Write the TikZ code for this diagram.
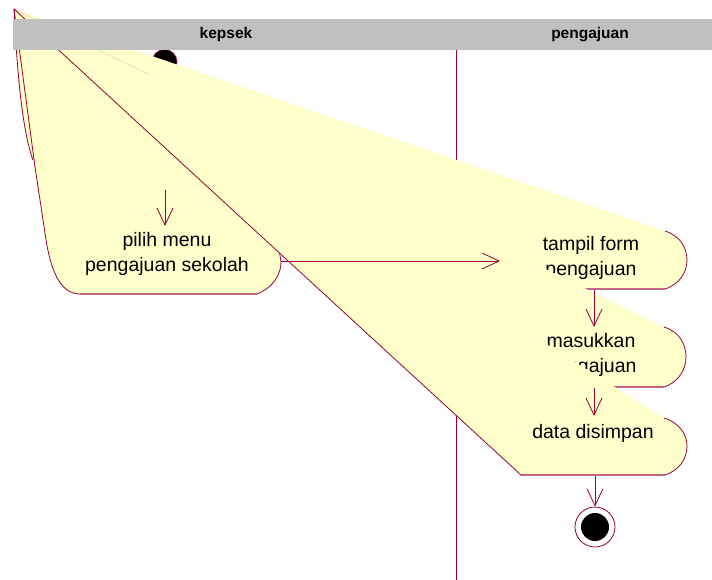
\documentclass[tikz,border=0pt]{standalone}
\usepackage{fontspec}
\setmainfont{Liberation Sans}
\usetikzlibrary{arrows.meta, positioning}
\definecolor{roseline}{RGB}{153,0,51}
\definecolor{roseyellow}{RGB}{255,255,204}
\definecolor{lanegray}{RGB}{192,192,192}
\definecolor{faintline}{RGB}{238,222,172}

\begin{document}
\begin{tikzpicture}[x=1pt, y=-1pt,
    swim/.style={fill=lanegray, draw=none},
    lanetitle/.style={font=\fontsize{15.5}{18}\selectfont\bfseries, anchor=base, inner sep=0pt},
    blob/.style={fill=roseyellow, draw=none},
    rim/.style={draw=roseline, line width=0.8pt},
    floorline/.style={draw=roseline!60, line width=1.3pt},
    activity/.style={font=\fontsize{19.5}{25}\selectfont, align=center, inner sep=0pt},
    edge/.style={draw=roseline, line width=0.8pt, -{Straight Barb[length=17pt, width=16pt, line width=0.8pt]}},
    startdot/.style={circle, fill=black, draw=roseline, line width=0.6pt, minimum size=25pt, inner sep=0pt},
    stopring/.style={circle, fill=white, draw=roseline, line width=0.8pt, minimum size=40pt, inner sep=0pt},
    stopdot/.style={circle, fill=black, minimum size=28pt, inner sep=0pt},
]

\useasboundingbox (0,0) rectangle (712,580);

% === SWIMLANE DIVIDER ===
\draw[rim] (456,49) -- (456,580);

% === INITIAL STATE ===
\node[startdot] (start) at (164.5,62) {};

% === ACTIVITY: pilih menu ===
\coordinate (apex) at (14,9);
\fill[blob] (apex) .. controls (17,70) and (22,130) .. (33,160) -- (45,233)
    .. controls (50,270) and (60,294) .. (80,294) -- (257,294)
    .. controls (274,287) and (281,274) .. (281,262) -- (278,250) -- cycle;
\draw[rim] (apex) .. controls (17,70) and (22,130) .. (33,160);
\draw[rim] (apex) -- (35,167) -- (45,233) .. controls (50,270) and (60,294) .. (80,294);
\draw[floorline] (80,294) -- (257,294);
\draw[rim] (257,294) .. controls (274,287) and (281,274) .. (281,262) -- (279,249);
\draw[rim] (apex) -- (40,22);
\node[activity] (pilih) at (167,254) {pilih menu\\pengajuan sekolah};

% === ACTIVITY: tampil form ===
\fill[blob] (apex) -- (665,231) .. controls (681,236) and (687,249) .. (687,260)
    .. controls (687,272) and (680,284) .. (665,289) -- (583,289) -- cycle;
\draw[rim] (665,231) .. controls (681,236) and (687,249) .. (687,260)
    .. controls (687,272) and (680,284) .. (665,289);
\draw[floorline] (665,289) -- (583,289);
\node[activity] (tampil) at (591,258) {tampil form\\pengajuan};

% === ACTIVITY: masukkan ===
\fill[blob] (apex) -- (664,327) .. controls (680,332) and (686,345) .. (686,357)
    .. controls (686,369) and (679,382) .. (664,387) -- (613,387) -- cycle;
\draw[faintline, line width=0.8pt] (apex) -- (150,75);
\draw[rim] (664,327) .. controls (680,332) and (686,345) .. (686,357)
    .. controls (686,369) and (679,382) .. (664,387);
\draw[floorline] (664,387) -- (613,387);
\node[activity] (masuk) at (591,355) {masukkan\\pengajuan};

% === ACTIVITY: data disimpan ===
\fill[blob] (apex) -- (664,418) .. controls (680,423) and (687,435) .. (687,446)
    .. controls (687,458) and (680,470) .. (665,475) -- (521,475) -- cycle;
\draw[rim] (664,418) .. controls (680,423) and (687,435) .. (687,446)
    .. controls (687,458) and (680,470) .. (665,475);
\draw[floorline] (665,475) -- (521,475);
\draw[rim] (521,475) -- (apex);
\node[activity, anchor=base] (simpan) at (593,438) {data disimpan};

% === FINAL STATE ===
\node[stopring] (stop) at (595,527) {};
\node[stopdot] (stopcore) at (stop.center) {};

% === TRANSITIONS ===
\coordinate (pilih-in-seen) at (165,190);
\coordinate (pilih-in) at (165,226);
\coordinate (pilih-out) at (281,261);
\coordinate (tampil-in) at (500,261);
\coordinate (tampil-out) at (594,290);
\coordinate (masuk-in) at (594,327);
\coordinate (masuk-out) at (594,388);
\coordinate (simpan-in) at (594,416);
\coordinate (simpan-out) at (595,476);
\draw[edge] (pilih-in-seen) -- (pilih-in);
\draw[edge] (pilih-out) -- (tampil-in);
\draw[edge] (tampil-out) -- (masuk-in);
\draw[edge] (masuk-out) -- (simpan-in);
\draw[edge] (simpan-out) -- (stop.north);

% === SWIMLANE HEADER ===
\fill[swim] (13,19) rectangle (712,50);
\node[lanetitle] (kepsek) at (226,39) {kepsek};
\node[lanetitle] (pengajuan) at (590,39) {pengajuan};

\end{tikzpicture}
\end{document}
